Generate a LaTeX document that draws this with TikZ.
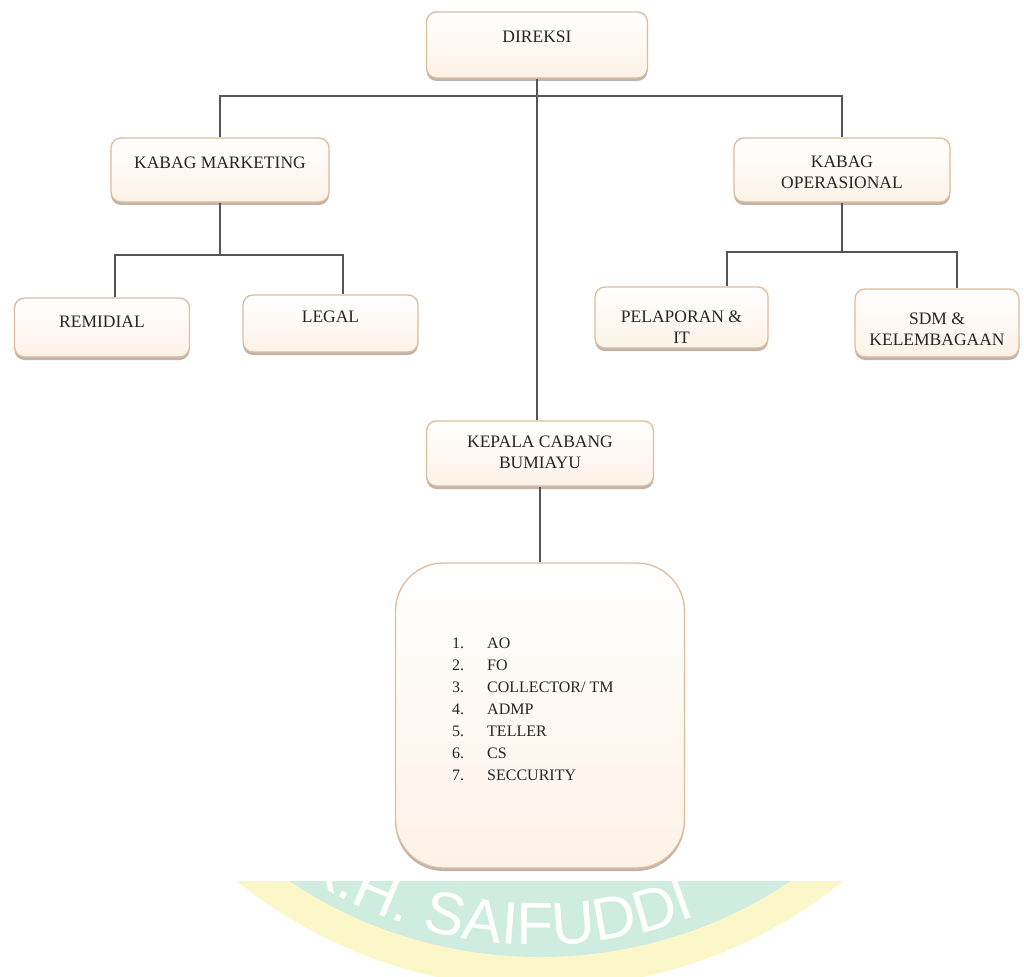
\documentclass[tikz,border=0pt]{standalone}
\usepackage{fontspec}
\setmainfont{Liberation Serif}
\newfontfamily\wmfont{Liberation Sans}
\usetikzlibrary{shadows,decorations.text}

\definecolor{edgetan}{RGB}{221,188,158}
\definecolor{boxpeach}{RGB}{253,242,230}
\definecolor{shadowbrown}{RGB}{140,120,105}
\definecolor{linegrey}{RGB}{85,85,85}
\definecolor{wmgreen}{RGB}{206,237,224}
\definecolor{wmyellow}{RGB}{252,247,200}

\tikzset{
  unit/.style={draw=edgetan, line width=1.3pt, rounded corners=10pt,
    top color=white, bottom color=boxpeach,
    drop shadow={shadow xshift=0pt, shadow yshift=-3pt, opacity=.55, fill=shadowbrown}},
  lbl/.style={anchor=north, inner sep=0pt, align=center, text=black!85,
    font=\fontsize{17.5}{21.5}\selectfont},
  link/.style={draw=linegrey, line width=1.1pt},
}

\begin{document}
\begin{tikzpicture}[x=1pt,y=-1pt]
\useasboundingbox (0,0) rectangle (1024,976);
\fill[white] (0,0) rectangle (1024,976);

% watermark
\begin{scope}
\clip (0,881) rectangle (1024,976);
\fill[wmyellow] (540,505) circle[radius=483];
\fill[wmgreen] (540,505) circle[radius=452];
\path[decorate, decoration={text along path, text color=white, text align=left,
  text={|\wmfont\fontsize{60}{64}\selectfont|K.H. SAIFUDDI}}]
  (540,505) ++(123:440) arc[start angle=123, end angle=50, radius=440];
\end{scope}

\node[unit, minimum width=221pt, minimum height=66pt] (direksi) at (537,45) {};
\node[lbl] (direksiT) at ([yshift=-19pt]direksi.north) {DIREKSI};

\node[unit, minimum width=218pt, minimum height=64pt] (marketing) at (220,170) {};
\node[lbl] (marketingT) at ([yshift=-19pt]marketing.north) {KABAG MARKETING};
\node[unit, minimum width=216pt, minimum height=64pt] (operasional) at (842,170) {};
\node[lbl] (operasionalT) at ([yshift=-18pt]operasional.north) {KABAG\\OPERASIONAL};

\node[unit, minimum width=175pt, minimum height=59pt] (remidial) at (102,327.5) {};
\node[lbl] (remidialT) at ([yshift=-18pt]remidial.north) {REMIDIAL};
\node[unit, minimum width=175pt, minimum height=57pt] (legal) at (330.5,323.5) {};
\node[lbl] (legalT) at ([yshift=-16pt]legal.north) {LEGAL};

\node[unit, minimum width=173pt, minimum height=61pt] (pelaporan) at (681.5,317.5) {};
\node[lbl] (pelaporanT) at ([yshift=-24pt]pelaporan.north) {PELAPORAN \&\\IT};
\node[unit, minimum width=164pt, minimum height=68pt] (sdm) at (937,323) {};
\node[lbl] (sdmT) at ([yshift=-24pt]sdm.north) {SDM \&\\KELEMBAGAAN};

\node[unit, minimum width=227pt, minimum height=65pt] (kepala) at (540,453.5) {};
\node[lbl] (kepalaT) at ([yshift=-15pt]kepala.north) {KEPALA CABANG\\BUMIAYU};

\node[unit, rounded corners=48pt, minimum width=289pt, minimum height=305pt] (staff) at (540,715.5) {};
\node[anchor=north west, inner sep=0pt, align=left, text=black!85,
  font=\fontsize{16}{22}\selectfont] (staffT) at (452,638)
  {\makebox[35pt][l]{1.}AO\\
   \makebox[35pt][l]{2.}FO\\
   \makebox[35pt][l]{3.}COLLECTOR/ TM\\
   \makebox[35pt][l]{4.}ADMP\\
   \makebox[35pt][l]{5.}TELLER\\
   \makebox[35pt][l]{6.}CS\\
   \makebox[35pt][l]{7.}SECCURITY};

\coordinate (hub) at (537,96);
\coordinate (mkbar) at (220,255);
\coordinate (opbar) at (842,252);

\draw[link] (direksi.south) -- (direksi.south |- kepala.north);
\draw[link] (marketing.north) |- (hub) -| (operasional.north);
\draw[link] (marketing.south) -- (mkbar);
\draw[link] ([xshift=13pt]remidial.north) |- (mkbar) -| ([xshift=12.5pt]legal.north);
\draw[link] (operasional.south) -- (opbar);
\draw[link] ([xshift=45.5pt]pelaporan.north) |- (opbar) -| ([xshift=20pt]sdm.north);
\draw[link] (kepala.south) -- (staff.north);
\end{tikzpicture}
\end{document}
